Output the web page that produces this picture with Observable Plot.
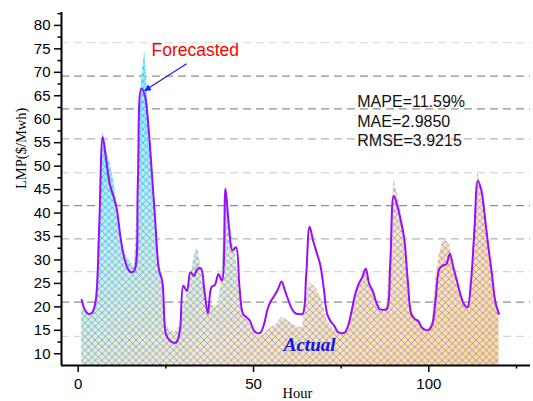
<!DOCTYPE html>
<html><head><meta charset="utf-8">
<script src="https://cdn.jsdelivr.net/npm/d3@7"></script>
<script src="https://cdn.jsdelivr.net/npm/@observablehq/plot@0.6"></script>
<style>body{margin:0;background:#fff}</style>
</head><body><div id="chart"></div>
<script>
// Actual LMP ($/MWh), hours 1..120
const actual = [
  20.0,18.7,18.2,18.7,20.8,38.0,57.2,53.7,50.8,47.6,
  42.3,36.6,31.6,30.5,29.5,28.5,44.0,68.0,74.5,62.0,
  51.0,40.0,30.0,26.5,16.3,15.3,14.6,14.8,16.0,19.5,
  22.7,26.0,30.5,32.7,28.5,23.0,19.5,20.5,20.0,20.5,
  27.0,44.8,40.0,34.0,30.5,23.5,18.5,17.4,16.3,15.0,
  13.9,13.8,14.2,14.9,15.6,16.0,16.7,17.8,17.4,16.9,
  16.3,16.0,15.6,15.7,21.7,25.2,24.5,23.8,22.4,19.9,
  17.0,16.0,15.2,14.5,14.3,14.3,15.2,18.5,22.3,24.5,
  26.0,28.3,25.5,23.5,21.0,19.5,19.2,19.8,31.0,47.0,
  44.5,40.5,36.0,27.0,19.5,17.5,16.8,15.5,15.0,15.2,
  17.0,26.0,31.0,34.0,34.0,33.0,29.5,26.0,23.0,21.0,
  20.0,21.0,38.0,49.0,45.0,40.0,33.0,27.5,22.0,18.5
];
// Forecasted LMP ($/MWh), hours 1..120
const forecast = [
  21.5,19.2,18.5,18.8,21.3,37.3,56.2,51.2,46.2,43.7,
  40.9,35.2,30.9,28.4,27.4,27.7,46.0,66.5,65.1,58.7,
  48.7,38.0,28.1,25.4,14.3,12.9,12.4,12.4,14.9,24.5,
  23.4,27.4,26.6,28.1,28.2,23.4,18.6,24.2,24.7,27.0,
  25.6,45.2,37.0,32.0,32.7,24.2,18.5,17.8,17.0,15.1,
  14.4,14.5,16.3,19.5,21.3,22.4,23.8,25.4,23.4,21.3,
  19.5,18.6,18.5,18.5,26.3,37.1,34.1,31.6,29.1,24.2,
  18.5,16.9,16.0,14.7,14.4,14.5,16.0,19.2,22.7,24.9,
  26.3,28.1,24.9,23.4,21.0,19.5,19.4,19.5,29.1,43.7,
  41.6,38.4,34.5,25.6,18.5,17.4,17.0,15.6,15.1,15.1,
  16.3,22.0,28.1,28.8,29.1,31.3,28.4,25.6,22.7,20.6,
  19.9,25.2,36.3,46.9,44.8,39.1,32.7,27.0,21.0,18.5
];
const hours = d3.range(1, actual.length + 1);

const xTicks = [0, 50, 100];
const xMinorTicks = [25, 75, 125];
const yTicks = [10, 15, 20, 25, 30, 35, 40, 45, 50, 55, 60, 65, 70, 75, 80];
const yMinorTicks = [12.5, 17.5, 22.5, 27.5, 32.5, 37.5, 42.5, 47.5, 52.5, 57.5, 62.5, 67.5, 72.5, 77.5, 82.5];
const gridDark = [21.0, 41.6, 62.2, 69.2];
const gridMid = [34.5, 55.8];
const gridLight = [13.7, 27.5, 48.6, 76.3];

const metricLines = ["MAPE=11.59%", "MAE=2.9850", "RMSE=3.9215"];
const metricAnchor = {x: 79.6, y: 54.2};
const forecastLabel = {text: "Forecasted", x: 33.4, y: 73.4};
const forecastArrow = {x1: 30.9, y1: 71.8, x2: 19.0, y2: 66.1};
const actualLabel = {text: "Actual", x: 66, y: 10.6};

const xDomain = [-4.76, 129];
const yDomain = [7.5, 82.75];

const data = hours.map((h, i) => ({hour: h, actual: actual[i], forecast: forecast[i]}));

function defs() {
  const d = d3.create("svg:defs");
  const g = d.append("linearGradient").attr("id", "actualGrad")
    .attr("x1", 0).attr("y1", 0).attr("x2", 1).attr("y2", 1);
  [[0, "#5ef9ff"], [0.15, "#82f8fc"], [0.35, "#b8f5e8"], [0.5, "#ddf2cf"],
   [0.65, "#f6eac0"], [0.8, "#fee3aa"], [1, "#ffd98e"]].forEach(([o, c]) =>
    g.append("stop").attr("offset", o).attr("stop-color", c));
  const s = 6.8;
  const p = d.append("pattern").attr("id", "hatch")
    .attr("patternUnits", "userSpaceOnUse").attr("width", s).attr("height", s);
  p.append("path").attr("d", `M0,0L${s},${s}M${s},0L0,${s}`)
    .attr("stroke", "#3a3aff").attr("stroke-width", 0.65).attr("stroke-opacity", 0.65).attr("fill", "none");
  const m = d.append("marker").attr("id", "arrowHead")
    .attr("viewBox", "0 0 10 10").attr("refX", 9).attr("refY", 5)
    .attr("markerWidth", 7.5).attr("markerHeight", 5.5).attr("orient", "auto");
  m.append("path").attr("d", "M0,0L10,5L0,10z").attr("fill", "#1a1aff");
  return d.node();
}

const gridRule = (vals, color) => Plot.ruleY(vals, {
  x1: xDomain[0], x2: xDomain[1], stroke: color, strokeWidth: 1.2, strokeDasharray: "8,5"
});

const chart = Plot.plot({
  width: 533,
  height: 401,
  marginLeft: 61,
  marginRight: 3,
  marginTop: 12,
  marginBottom: 36,
  style: {fontFamily: "'Liberation Sans', Arial, sans-serif", background: "#fff", overflow: "visible"},
  x: {domain: xDomain, axis: null},
  y: {domain: yDomain, axis: null},
  marks: [
    defs,
    gridRule(gridLight, "#d6d6d6"),
    gridRule(gridMid, "#b4b4b4"),
    gridRule(gridDark, "#8e8e8e"),
    Plot.areaY(data, {x: "hour", y1: yDomain[0], y2: "actual", fill: "url(#actualGrad)"}),
    Plot.areaY(data, {x: "hour", y1: yDomain[0], y2: "actual", fill: "url(#hatch)"}),
    Plot.line(data, {x: "hour", y: "forecast", stroke: "#9a0cff", strokeWidth: 2, curve: "catmull-rom"}),
    Plot.ruleX([xDomain[0]], {stroke: "#000", strokeWidth: 2}),
    Plot.ruleY([yDomain[0]], {stroke: "#000", strokeWidth: 2}),
    Plot.axisY({ticks: yTicks, tickSize: 7, tickPadding: 4, fontSize: 15, strokeWidth: 1.5, label: null, fill: "#000"}),
    Plot.axisY({ticks: yMinorTicks, tickSize: 3.5, tickFormat: () => "", strokeWidth: 1.5, label: null}),
    Plot.axisX({ticks: xTicks, tickSize: 7, tickPadding: 6, fontSize: 15, strokeWidth: 1.5, label: null, fill: "#000"}),
    Plot.axisX({ticks: xMinorTicks, tickSize: 3.5, tickFormat: () => "", strokeWidth: 1.5, label: null}),
    Plot.text(["LMP($/Mwh)"], {frameAnchor: "left", rotate: -90, dx: -40, fontFamily: "'Liberation Serif', 'Times New Roman', serif", fontSize: 14.5, fill: "#000"}),
    Plot.text(["Hour"], {frameAnchor: "bottom", lineAnchor: "top", dy: 22, dx: 1.5, fontFamily: "'Liberation Serif', 'Times New Roman', serif", fontSize: 14.5, fill: "#000"}),
    Plot.text([metricLines.join("\n")], {x: metricAnchor.x, y: metricAnchor.y, textAnchor: "start", lineAnchor: "bottom", lineHeight: 1.22, fontSize: 16, fill: "#111"}),
    Plot.text([forecastLabel], {x: "x", y: "y", text: "text", lineAnchor: "bottom", fontSize: 17.5, fill: "#ff0000"}),
    Plot.link([forecastArrow], {x1: "x1", y1: "y1", x2: "x2", y2: "y2", stroke: "#1a1aff", strokeWidth: 1.2}),
    Plot.text([actualLabel], {x: "x", y: "y", text: "text", lineAnchor: "bottom", fontSize: 19, fontStyle: "italic", fontWeight: "bold", fontFamily: "'Liberation Serif', 'Times New Roman', serif", fill: "#1414e6"})
  ]
});
d3.select(chart).selectAll("g[aria-label=link] path").attr("marker-end", "url(#arrowHead)");
document.getElementById("chart").appendChild(chart);
</script>
</body></html>
